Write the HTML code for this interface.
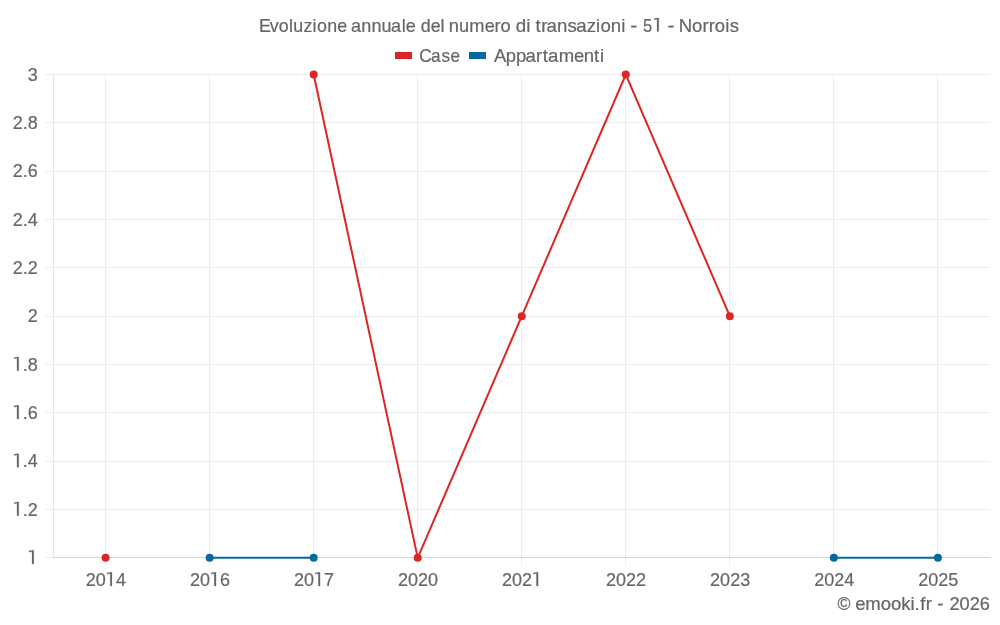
<!DOCTYPE html>
<html><head><meta charset="utf-8"><style>
html,body{margin:0;padding:0;background:#fff;width:1000px;height:625px;overflow:hidden}
svg{display:block;will-change:transform}
text{font-family:"Liberation Sans",sans-serif;font-size:18px;fill:#666666;stroke:#666666;stroke-width:0.2px}
.h{fill:none;stroke:none}
.lab{font-size:18.55px}
.one{fill:#666666;stroke:#666666;stroke-width:0.2px}
</style></head><body>
<svg width="1000" height="625" viewBox="0 0 1000 625">
<rect width="1000" height="625" fill="#fff"/>
<line x1="45" y1="557.5" x2="990" y2="557.5" stroke="#ededed" stroke-width="1"/>
<line x1="45" y1="509.5" x2="990" y2="509.5" stroke="#ededed" stroke-width="1"/>
<line x1="45" y1="461.5" x2="990" y2="461.5" stroke="#ededed" stroke-width="1"/>
<line x1="45" y1="412.5" x2="990" y2="412.5" stroke="#ededed" stroke-width="1"/>
<line x1="45" y1="364.5" x2="990" y2="364.5" stroke="#ededed" stroke-width="1"/>
<line x1="45" y1="316.5" x2="990" y2="316.5" stroke="#ededed" stroke-width="1"/>
<line x1="45" y1="267.5" x2="990" y2="267.5" stroke="#ededed" stroke-width="1"/>
<line x1="45" y1="219.5" x2="990" y2="219.5" stroke="#ededed" stroke-width="1"/>
<line x1="45" y1="171.5" x2="990" y2="171.5" stroke="#ededed" stroke-width="1"/>
<line x1="45" y1="122.5" x2="990" y2="122.5" stroke="#ededed" stroke-width="1"/>
<line x1="45" y1="74.5" x2="990" y2="74.5" stroke="#ededed" stroke-width="1"/>
<line x1="105.5" y1="74" x2="105.5" y2="566" stroke="#ededed" stroke-width="1"/>
<line x1="209.5" y1="74" x2="209.5" y2="566" stroke="#ededed" stroke-width="1"/>
<line x1="313.5" y1="74" x2="313.5" y2="566" stroke="#ededed" stroke-width="1"/>
<line x1="417.5" y1="74" x2="417.5" y2="566" stroke="#ededed" stroke-width="1"/>
<line x1="521.5" y1="74" x2="521.5" y2="566" stroke="#ededed" stroke-width="1"/>
<line x1="625.5" y1="74" x2="625.5" y2="566" stroke="#ededed" stroke-width="1"/>
<line x1="729.5" y1="74" x2="729.5" y2="566" stroke="#ededed" stroke-width="1"/>
<line x1="833.5" y1="74" x2="833.5" y2="566" stroke="#ededed" stroke-width="1"/>
<line x1="937.5" y1="74" x2="937.5" y2="566" stroke="#ededed" stroke-width="1"/>
<line x1="53.5" y1="74" x2="53.5" y2="558" stroke="#e4e4e4" stroke-width="1"/>
<line x1="53" y1="557.5" x2="991" y2="557.5" stroke="#d5d5d5" stroke-width="1"/>
<path d="M209.64,557.85 L313.68,557.85" fill="none" stroke="#0369a1" stroke-width="2" stroke-linejoin="miter"/>
<path d="M833.88,557.85 L937.92,557.85" fill="none" stroke="#0369a1" stroke-width="2" stroke-linejoin="miter"/>
<circle cx="209.64" cy="557.85" r="4.0" fill="#0369a1"/>
<circle cx="313.68" cy="557.85" r="4.0" fill="#0369a1"/>
<circle cx="833.88" cy="557.85" r="4.0" fill="#0369a1"/>
<circle cx="937.92" cy="557.85" r="4.0" fill="#0369a1"/>
<path d="M313.68,74.50 L417.72,557.85 L521.76,316.18 L625.80,74.50 L729.84,316.18" fill="none" stroke="#dc2626" stroke-width="2" stroke-linejoin="miter"/>
<circle cx="105.60" cy="557.85" r="4.0" fill="#dc2626"/>
<circle cx="313.68" cy="74.50" r="4.0" fill="#dc2626"/>
<circle cx="417.72" cy="557.85" r="4.0" fill="#dc2626"/>
<circle cx="521.76" cy="316.18" r="4.0" fill="#dc2626"/>
<circle cx="625.80" cy="74.50" r="4.0" fill="#dc2626"/>
<circle cx="729.84" cy="316.18" r="4.0" fill="#dc2626"/>
<text class="lab" transform="scale(0.9704,1)" x="38.85" y="564.00" text-anchor="end"><tspan class="h">1</tspan></text>
<text class="lab" transform="scale(0.9704,1)" x="38.85" y="515.67" text-anchor="end"><tspan class="h">1</tspan>.2</text>
<text class="lab" transform="scale(0.9704,1)" x="38.85" y="467.33" text-anchor="end"><tspan class="h">1</tspan>.4</text>
<text class="lab" transform="scale(0.9704,1)" x="38.85" y="419.00" text-anchor="end"><tspan class="h">1</tspan>.6</text>
<text class="lab" transform="scale(0.9704,1)" x="38.85" y="370.66" text-anchor="end"><tspan class="h">1</tspan>.8</text>
<text class="lab" transform="scale(0.9704,1)" x="38.85" y="322.32" text-anchor="end">2</text>
<text class="lab" transform="scale(0.9704,1)" x="38.85" y="273.99" text-anchor="end">2.2</text>
<text class="lab" transform="scale(0.9704,1)" x="38.85" y="225.65" text-anchor="end">2.4</text>
<text class="lab" transform="scale(0.9704,1)" x="38.85" y="177.32" text-anchor="end">2.6</text>
<text class="lab" transform="scale(0.9704,1)" x="38.85" y="128.99" text-anchor="end">2.8</text>
<text class="lab" transform="scale(0.9704,1)" x="38.85" y="80.65" text-anchor="end">3</text>
<text class="lab" transform="scale(0.9704,1)" x="109.13" y="586" text-anchor="middle">20<tspan class="h">1</tspan>4</text>
<text class="lab" transform="scale(0.9704,1)" x="216.34" y="586" text-anchor="middle">20<tspan class="h">1</tspan>6</text>
<text class="lab" transform="scale(0.9704,1)" x="323.56" y="586" text-anchor="middle">20<tspan class="h">1</tspan>7</text>
<text class="lab" transform="scale(0.9704,1)" x="430.77" y="586" text-anchor="middle">2020</text>
<text class="lab" transform="scale(0.9704,1)" x="537.98" y="586" text-anchor="middle">202<tspan class="h">1</tspan></text>
<text class="lab" transform="scale(0.9704,1)" x="645.20" y="586" text-anchor="middle">2022</text>
<text class="lab" transform="scale(0.9704,1)" x="752.41" y="586" text-anchor="middle">2023</text>
<text class="lab" transform="scale(0.9704,1)" x="859.62" y="586" text-anchor="middle">2024</text>
<text class="lab" transform="scale(0.9704,1)" x="966.84" y="586" text-anchor="middle">2025</text>
<text transform="scale(0.9914,1)" x="261.26 272.08 281.13 291.60 295.89 306.18 315.33 319.77 330.06 340.10" y="31.6">Evoluzione</text>
<text transform="scale(1.0020,1)" x="350.28 360.64 370.69 380.75 390.32 400.87 405.00" y="31.6">annuale</text>
<text transform="scale(0.9916,1)" x="424.33 434.39 444.33" y="31.6">del</text>
<text transform="scale(1.0128,1)" x="443.21 453.10 463.39 478.58 488.32 494.24" y="31.6">numero</text>
<text transform="scale(1.0437,1)" x="494.24 504.31" y="31.6">di</text>
<text transform="scale(1.0369,1)" x="516.33 522.08 527.12 537.22 547.24 555.68 565.95 574.86 579.04 588.97 599.04" y="31.6">transazioni</text>
<text transform="scale(1.1972,1)" x="526.36" y="31.6">-</text>
<text transform="scale(0.9132,1)" x="704.06" y="31.6">5<tspan class="h">1</tspan></text>
<text transform="scale(1.1746,1)" x="568.35" y="31.6">-</text>
<text transform="scale(1.0310,1)" x="658.39 671.28 681.38 687.40 693.25 703.50 707.75" y="31.6">Norrois</text>
<rect x="395.5" y="52.5" width="16" height="6" fill="#dc2626" stroke="#dc2626" stroke-width="1"/>
<text transform="scale(0.9569,1)" x="438.21 450.49 461.38 470.75" y="61.6">Case</text>
<rect x="469.5" y="52.5" width="16" height="6" fill="#0369a1" stroke="#0369a1" stroke-width="1"/>
<text transform="scale(1.0276,1)" x="480.62 492.28 502.17 511.51 521.71 528.14 533.25 543.65 558.64 568.07 577.98 583.87" y="61.6">Appartamenti</text>
<text transform="scale(0.9801,1)" x="854.51" y="609.8">©</text>
<text transform="scale(1.0308,1)" x="829.73 839.38 854.50 864.44 874.29 883.38 887.17 892.71 898.09" y="609.8">emooki.fr</text>
<text transform="scale(1.0391,1)" x="902.11" y="609.8">-</text>
<text transform="scale(1.0136,1)" x="936.70 946.60 956.66 966.67" y="609.8">2026</text>
<path class="one" transform="translate(27.69,564.00) scale(1.0000,1)" d="M6.1,-13.7 L6.1,0 L4.3,0 L4.3,-12.4 L1.4,-11.8 L1.4,-13.2 L4.7,-13.7 Z"/>
<path class="one" transform="translate(12.68,515.67) scale(1.0000,1)" d="M6.1,-13.7 L6.1,0 L4.3,0 L4.3,-12.4 L1.4,-11.8 L1.4,-13.2 L4.7,-13.7 Z"/>
<path class="one" transform="translate(12.68,467.33) scale(1.0000,1)" d="M6.1,-13.7 L6.1,0 L4.3,0 L4.3,-12.4 L1.4,-11.8 L1.4,-13.2 L4.7,-13.7 Z"/>
<path class="one" transform="translate(12.68,419.00) scale(1.0000,1)" d="M6.1,-13.7 L6.1,0 L4.3,0 L4.3,-12.4 L1.4,-11.8 L1.4,-13.2 L4.7,-13.7 Z"/>
<path class="one" transform="translate(12.68,370.66) scale(1.0000,1)" d="M6.1,-13.7 L6.1,0 L4.3,0 L4.3,-12.4 L1.4,-11.8 L1.4,-13.2 L4.7,-13.7 Z"/>
<path class="one" transform="translate(105.90,586.00) scale(1.0000,1)" d="M6.1,-13.7 L6.1,0 L4.3,0 L4.3,-12.4 L1.4,-11.8 L1.4,-13.2 L4.7,-13.7 Z"/>
<path class="one" transform="translate(209.94,586.00) scale(1.0000,1)" d="M6.1,-13.7 L6.1,0 L4.3,0 L4.3,-12.4 L1.4,-11.8 L1.4,-13.2 L4.7,-13.7 Z"/>
<path class="one" transform="translate(313.98,586.00) scale(1.0000,1)" d="M6.1,-13.7 L6.1,0 L4.3,0 L4.3,-12.4 L1.4,-11.8 L1.4,-13.2 L4.7,-13.7 Z"/>
<path class="one" transform="translate(532.07,586.00) scale(1.0000,1)" d="M6.1,-13.7 L6.1,0 L4.3,0 L4.3,-12.4 L1.4,-11.8 L1.4,-13.2 L4.7,-13.7 Z"/>
<path class="one" transform="translate(652.70,31.60) scale(1.0000,1)" d="M6.1,-13.7 L6.1,0 L4.3,0 L4.3,-12.4 L1.4,-11.8 L1.4,-13.2 L4.7,-13.7 Z"/>
</svg>
</body></html>
